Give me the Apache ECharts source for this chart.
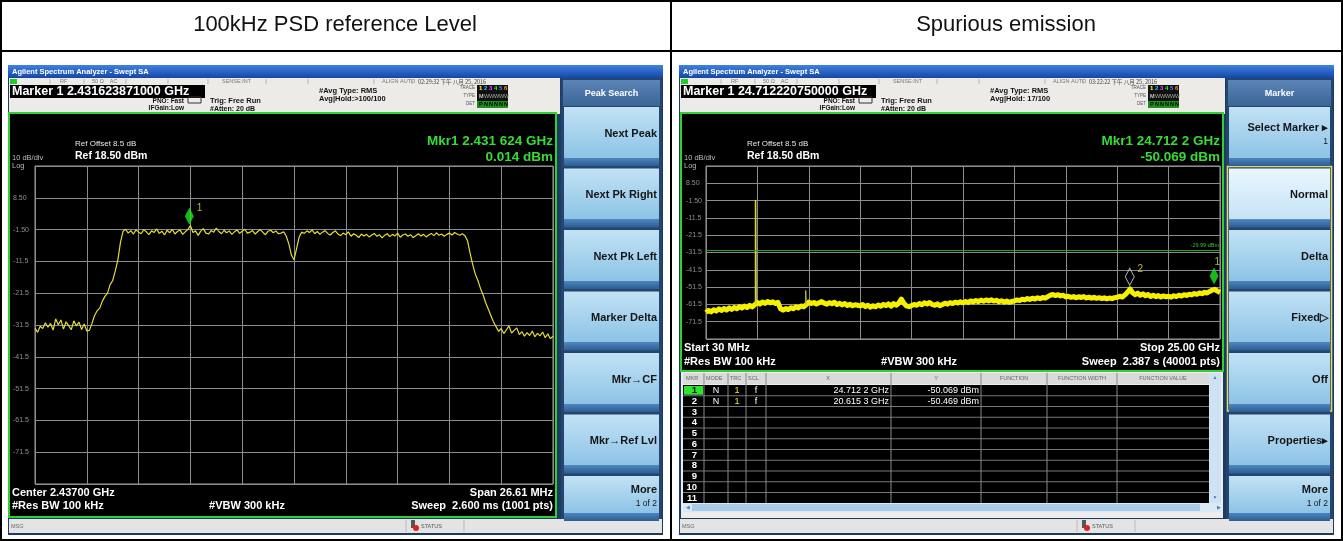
<!DOCTYPE html>
<html>
<head>
<meta charset="utf-8">
<script src="https://cdn.jsdelivr.net/npm/echarts@6/dist/echarts.min.js"></script>
<style>
  html, body { margin: 0; padding: 0; background: #fff; }
  #chart { width: 1343px; height: 541px; }
</style>
</head>
<body>
<div id="chart"></div>
<script>
// ---- 数据 ----
var titles = ['100kHz PSD reference Level', 'Spurious emission'];
var yTickLabels = ['8.50', '-1.50', '-11.5', '-21.5', '-31.5', '-41.5', '-51.5', '-61.5', '-71.5'];

// 左图: 2.43700 GHz 中心, 26.61 MHz 跨度, 201 点
var psdStartMHz = 2423.695;
var psdSpanMHz = 26.61;
var psdTrace = [
  -32.5, -33.8, -31.9, -32.6, -30.8, -32.2, -31.0, -33.1, -29.6, -31.4,
  -29.9, -32.8, -30.5, -31.7, -33.0, -30.2, -31.8, -30.6, -32.9, -31.2,
  -33.4, -33.2, -31.0, -28.5, -27.0, -26.2, -24.0, -22.5, -21.5, -18.8,
  -17.5, -14.5, -11.0, -5.5, -2.0, -1.4, -2.6, -1.8, -2.9, -1.6,
  -2.3, -2.8, -1.5, -2.2, -3.1, -1.9, -2.4, -1.3, -2.7, -2.0,
  -3.2, -1.7, -2.5, -1.4, -2.9, -2.1, -1.6, -3.0, -2.2, -1.5,
  -0.2, -2.4, -1.9, -3.3, -2.0, -1.2, -2.6, -2.9, -1.8, -2.3,
  -1.0, -2.1, -2.8, -1.7, -2.5, -1.9, -3.0, -2.2, -1.6, -2.7,
  -2.0, -1.4, -2.6, -2.3, -1.8, -2.9, -2.1, -1.5, -2.4, -3.1,
  -2.0, -1.7, -2.5, -1.9, -2.8, -2.6, -2.2, -3.5, -6.0, -9.5,
  -11.0, -7.5, -3.8, -2.3, -2.7, -1.9, -2.4, -1.6, -2.8, -2.1,
  -3.0, -2.3, -1.8, -2.7, -3.2, -2.4, -1.9, -2.9, -3.4, -2.6,
  -3.1, -2.2, -3.6, -2.8, -3.3, -4.0, -2.9, -3.5, -3.0, -3.8,
  -3.2, -2.7, -3.6, -3.1, -4.1, -3.3, -2.8, -3.7, -3.0, -3.5,
  -2.6, -3.9, -3.2, -2.9, -3.6, -3.1, -4.0, -3.4, -2.8, -3.5,
  -3.0, -3.8, -3.2, -2.7, -3.4, -2.5, -3.3, -2.9, -3.6, -3.0,
  -2.6, -3.2, -2.4, -2.9, -3.3, -2.8, -3.4, -5.0, -9.0, -12.5,
  -15.5, -17.5, -20.0, -22.0, -24.5, -26.5, -28.5, -30.5, -32.0, -33.5,
  -32.6, -34.2, -33.0, -31.8, -34.0, -33.2, -32.4, -34.5, -33.6, -35.0,
  -33.9, -34.8, -33.4, -35.2, -34.1, -34.9, -33.7, -35.5, -34.3, -35.8,
  -35.0
];
var psdMarker = { freq: 2431.624, level: 0.014 };

// 右图: 30 MHz - 25 GHz, 201 点
var spurStartGHz = 0.03;
var spurStopGHz = 25.0;
var spurTrace = [
  -66.2, -64.9, -65.8, -64.6, -65.3, -64.1, -65.0, -63.9, -64.7, -63.5,
  -64.4, -63.2, -64.0, -62.8, -63.6, -62.5, -63.3, -62.0, -62.9, -61.6,
  -60.4, -61.3, -60.1, -60.9, -59.8, -60.6, -60.0, -61.0, -60.3, -64.0,
  -64.8, -63.9, -64.5, -63.4, -64.0, -62.9, -63.5, -62.4, -62.9, -61.6,
  -60.2, -61.0, -60.4, -61.3, -60.6, -59.9, -60.8, -61.4, -60.5, -61.1,
  -60.3, -61.6, -60.9, -61.8, -61.0, -62.1, -61.4, -62.3, -61.7, -62.0,
  -62.4, -61.6, -62.8, -62.0, -63.1, -62.3, -62.9, -61.8, -62.6, -61.5,
  -62.2, -61.2, -62.5, -61.0, -62.0, -60.8, -58.4, -60.9, -62.4, -62.8,
  -62.2, -61.5, -62.0, -61.0, -61.7, -60.6, -61.3, -60.4, -61.5, -62.0,
  -61.2, -62.3, -61.6, -60.8, -61.4, -60.5, -61.0, -60.2, -60.7, -60.0,
  -60.6, -59.8, -60.4, -59.5, -60.1, -59.2, -59.9, -59.0, -59.7, -58.9,
  -59.5, -58.8, -59.6, -59.1, -60.0, -59.4, -60.2, -59.6, -60.3, -59.8,
  -59.5, -58.9, -59.3, -58.5, -58.9, -58.1, -58.6, -57.9, -58.4, -57.7,
  -58.2, -57.5, -57.9, -57.0, -56.2, -55.8, -56.4, -55.9, -56.6, -56.2,
  -57.2, -56.8, -57.4, -57.0, -57.6, -57.1, -57.5, -57.0, -57.8, -57.3,
  -57.9, -57.4, -58.0, -57.6, -58.1, -57.7, -58.3, -57.8, -58.2, -57.6,
  -57.4, -56.8, -57.2, -56.0, -54.5, -52.6, -54.8, -55.9, -55.0, -56.2,
  -55.4, -56.5, -55.8, -56.9, -56.2, -57.0, -56.4, -57.2, -56.6, -57.1,
  -56.8, -57.3, -56.5, -57.0, -56.2, -56.7, -55.9, -56.3, -55.6, -56.0,
  -55.2, -55.7, -54.9, -55.3, -54.5, -54.9, -54.0, -53.2, -52.8, -53.8,
  -54.6
];
var spurSpikes = [[2.437, -1.2], [4.874, -53.5]];
var spurMarkers = [
  { n: '1', freq: 24.7122, level: -50.069 },
  { n: '2', freq: 20.6153, level: -50.469 }
];
var spurLimit = -29.99;
var markerRows = [
  ['1', 'N', '1', 'f', '24.712 2 GHz', '-50.069 dBm'],
  ['2', 'N', '1', 'f', '20.615 3 GHz', '-50.469 dBm']
];

// ---- 绘图辅助 ----
var FONT = 'Liberation Sans, Arial, sans-serif';
function grad(a, b) {
  return { type: 'linear', x: 0, y: 0, x2: 0, y2: 1, colorStops: [{ offset: 0, color: a }, { offset: 1, color: b }] };
}
function R(x, y, w, h, fill, stroke, lw) {
  return { type: 'rect', z: -5, silent: true, shape: { x: x, y: y, width: w, height: h },
    style: { fill: fill || 'none', stroke: stroke || null, lineWidth: lw || 1 } };
}
function L(x1, y1, x2, y2, color, lw) {
  return { type: 'line', z: -5, silent: true, shape: { x1: x1, y1: y1, x2: x2, y2: y2 },
    style: { stroke: color, lineWidth: lw || 1 } };
}
function T(x, y, s, size, color, o) {
  o = o || {};
  return { type: 'text', z: -5, silent: true, x: x, y: y,
    style: { text: s, fontSize: size, fill: color, fontFamily: o.font || FONT,
      fontWeight: o.bold ? 'bold' : 'normal', align: o.align || 'left', verticalAlign: 'middle' } };
}

var wins = [
  { x0: 8, x1: 663, plotX: 9, plotR: 556, plotB: 517, panelX: 561, b1: 493, b2: 506, vbw: 247,
    marker: 'Marker 1 2.431623871000 GHz', avg: 'Avg|Hold:>100/100', time: '02:29:32 下午 八月 25, 2016',
    mkr: ['Mkr1 2.431 624 GHz', '0.014 dBm'], l1: 'Center 2.43700 GHz', r1: 'Span 26.61 MHz',
    sweep: 'Sweep  2.600 ms (1001 pts)', panel: 'Peak Search',
    buttons: [['Next Peak'], ['Next Pk Right'], ['Next Pk Left'], ['Marker Delta'], ['Mkr→CF'], ['Mkr→Ref Lvl'], ['More', '1 of 2']] },
  { x0: 679, x1: 1334, plotX: 681, plotR: 1223, plotB: 371, panelX: 1226, b1: 348, b2: 362, vbw: 919,
    marker: 'Marker 1 24.712220750000 GHz', avg: 'Avg|Hold: 17/100', time: '03:22:22 下午 八月 25, 2016',
    mkr: ['Mkr1 24.712 2 GHz', '-50.069 dBm'], l1: 'Start 30 MHz', r1: 'Stop 25.00 GHz',
    sweep: 'Sweep  2.387 s (40001 pts)', panel: 'Marker',
    buttons: [['Select Marker ▸', '1'], ['Normal'], ['Delta'], ['Fixed▷'], ['Off'], ['Properties▸'], ['More', '1 of 2']] }
];

function chrome(w) {
  var g = [], W = w.x1 - w.x0;
  g.push(R(w.x0, 65, W, 470, '#1d3a63'));
  g.push(R(w.x0, 65, W, 13, grad('#3f82e2', '#1646a4')));
  g.push(T(w.x0 + 4, 71.5, 'Agilent Spectrum Analyzer - Swept SA', 7.5, '#fff', { bold: 1 }));
  // 信息栏
  g.push(R(w.x0 + 1, 78, w.panelX - w.x0 - 2, 36, '#ecebe7'));
  g.push(R(w.x0 + 2, 79, 7, 5, '#22cc22'));
  [42, 76, 118, 160, 200, 258, 300, 366, 404].forEach(function (dx) { g.push(L(w.x0 + dx, 79, w.x0 + dx, 84, '#b5b5b5')); });
  g.push(T(w.x0 + 52, 81.5, 'RF', 5.5, '#777'));
  g.push(T(w.x0 + 84, 81.5, '50 Ω    AC', 5.5, '#777'));
  g.push(T(w.x0 + 214, 81.5, 'SENSE:INT', 5.5, '#777'));
  g.push(T(w.x0 + 374, 81.5, 'ALIGN AUTO', 5.5, '#777'));
  g.push(T(w.x0 + 410, 81.5, w.time, 5.5, '#444', { font: 'Noto Sans CJK SC' }));
  g.push(R(w.x0 + 2, 85, 195, 13, '#000'));
  g.push(T(w.x0 + 4, 91.5, w.marker, 12.5, '#fff', { bold: 1 }));
  g.push(T(w.x0 + 176, 101, 'PNO: Fast', 6.5, '#111', { bold: 1, align: 'right' }));
  g.push(T(w.x0 + 176, 108.5, 'IFGain:Low', 6.5, '#111', { bold: 1, align: 'right' }));
  g.push(R(w.x0 + 180, 97, 13, 6, 'none', '#333'));
  g.push(T(w.x0 + 202, 101, 'Trig: Free Run', 7.5, '#111', { bold: 1 }));
  g.push(T(w.x0 + 202, 109, '#Atten: 20 dB', 7, '#111', { bold: 1 }));
  g.push(T(w.x0 + 311, 91, '#Avg Type: RMS', 7.5, '#111', { bold: 1 }));
  g.push(T(w.x0 + 311, 99, w.avg, 7.5, '#111', { bold: 1 }));
  g.push(T(w.x0 + 467, 88, 'TRACE', 4.5, '#555', { align: 'right' }));
  g.push(T(w.x0 + 467, 96, 'TYPE', 4.5, '#555', { align: 'right' }));
  g.push(T(w.x0 + 467, 104, 'DET', 4.5, '#555', { align: 'right' }));
  g.push(R(w.x0 + 469, 85, 31, 23, '#111'));
  g.push(R(w.x0 + 469, 101, 31, 7, '#1f8f1f'));
  var tc = ['#ffff30', '#30c0ff', '#ff40ff', '#30ff30', '#6080ff', '#ff9030'];
  for (var i = 0; i < 6; i++) {
    g.push(T(w.x0 + 471 + i * 5, 88.5, String(i + 1), 6, tc[i], { bold: 1 }));
    g.push(T(w.x0 + 471 + i * 5, 96, i ? 'W' : 'M', 5.5, i ? '#aaa' : '#fff'));
    g.push(T(w.x0 + 471 + i * 5, 104.5, i ? 'N' : 'P', 5.5, '#000', { bold: 1 }));
  }
  // 黑色显示区
  g.push(R(w.plotX, 113, w.plotR - w.plotX, w.plotB - 113, '#000', '#2fd02f', 2));
  g.push(T(w.plotX + 66, 144, 'Ref Offset 8.5 dB', 8, '#e6e6e6'));
  g.push(T(w.plotX + 66, 156, 'Ref 18.50 dBm', 10.5, '#fff', { bold: 1 }));
  g.push(T(w.plotX + 3, 158, '10 dB/div', 7.5, '#bbb'));
  g.push(T(w.plotX + 3, 165.5, 'Log', 7.5, '#bbb'));
  g.push(T(w.plotR - 3, 141, w.mkr[0], 13.5, '#36dc36', { bold: 1, align: 'right' }));
  g.push(T(w.plotR - 3, 157, w.mkr[1], 13.5, '#36dc36', { bold: 1, align: 'right' }));
  g.push(T(w.plotX + 3, w.b1, w.l1, 11, '#fff', { bold: 1 }));
  g.push(T(w.plotR - 3, w.b1, w.r1, 11, '#fff', { bold: 1, align: 'right' }));
  g.push(T(w.plotX + 3, w.b2, '#Res BW 100 kHz', 11, '#fff', { bold: 1 }));
  g.push(T(w.vbw, w.b2, '#VBW 300 kHz', 11, '#fff', { bold: 1, align: 'center' }));
  g.push(T(w.plotR - 3, w.b2, w.sweep, 11, '#fff', { bold: 1, align: 'right' }));
  // MSG 栏
  g.push(R(w.x0 + 1, 519, W - 2, 14, '#e4e4e4'));
  g.push(T(w.x0 + 3, 526, 'MSG', 5.5, '#666'));
  g.push(L(w.x0 + 398, 520, w.x0 + 398, 532, '#bbb'));
  g.push(L(w.x0 + 456, 520, w.x0 + 456, 532, '#bbb'));
  g.push(R(w.x0 + 403, 520, 4, 8, '#555'));
  g.push({ type: 'circle', z: -5, silent: true, shape: { cx: w.x0 + 408, cy: 528, r: 3 }, style: { fill: '#e02020' } });
  g.push(T(w.x0 + 413, 526, 'STATUS', 5.5, '#555'));
  // 右侧软键
  var pw = w.x1 - w.panelX - 1;
  g.push(R(w.panelX, 78, pw, 441, '#26456d'));
  g.push(R(w.panelX + 2, 80, pw - 4, 26, grad('#5b85b6', '#3a6597')));
  g.push(T(w.panelX + pw / 2, 94, w.panel, 9, '#fff', { bold: 1, align: 'center' }));
  var tops = [], hs = [];
  for (var k = 0; k < 7; k++) { tops.push(107 + 61.5 * k); hs.push(k < 6 ? 59 : 45); }
  var isMarker = w.panel === 'Marker';
  if (isMarker) g.push(R(w.panelX + 1.5, tops[1] - 2, pw - 3, tops[4] + hs[4] - tops[1] + 1, 'none', '#e3dc6a', 1.5));
  w.buttons.forEach(function (b, k) {
    var top = tops[k], h = hs[k];
    var hi = isMarker && k === 1;
    g.push(R(w.panelX + 3, top, pw - 6, h - 8, hi ? grad('#eaf6fd', '#c4e3f6') : grad('#c2e2f5', '#8cc3e6')));
    g.push(R(w.panelX + 3, top + h - 8, pw - 6, 8, grad('#4c86bd', '#2c5d93')));
    var cy = top + (h - 8) / 2 + 1;
    if (b.length === 1) {
      g.push(T(w.panelX + pw - 5, cy, b[0], 11, '#151515', { bold: 1, align: 'right' }));
    } else {
      g.push(T(w.panelX + pw - 5, cy - 6, b[0], 11, '#151515', { bold: 1, align: 'right' }));
      g.push(T(w.panelX + pw - 5, cy + 8, b[1], 8.5, '#151515', { align: 'right' }));
    }
  });
  return g;
}

function markerTable() {
  var g = [], x0 = 683, top = 385, rh = 10.75;
  g.push(R(681, 372, 542, 146, '#ececec'));
  g.push(R(x0, 373, 526, 11, '#dadada'));
  var hdr = [[686, 'MKR', 'left'], [706, 'MODE', 'left'], [730, 'TRC', 'left'], [748, 'SCL', 'left'],
    [828, 'X', 'center'], [936, 'Y', 'center'], [1014, 'FUNCTION', 'center'],
    [1082, 'FUNCTION WIDTH', 'center'], [1163, 'FUNCTION VALUE', 'center']];
  hdr.forEach(function (h) { g.push(T(h[0], 378.5, h[1], 5.5, '#666', { align: h[2] })); });
  g.push(R(x0, top, 526, 118, '#000'));
  for (var r = 1; r <= 10; r++) g.push(L(x0, top + rh * r, 1209, top + rh * r, '#777'));
  [704, 728, 746, 766, 891, 981, 1047, 1117].forEach(function (x) { g.push(L(x, 373, x, 503, '#888')); });
  for (var n = 1; n <= 11; n++) {
    var cy = top + rh * (n - 1) + rh / 2;
    if (n === 1) g.push(R(x0 + 1, top + 1, 19, rh - 2, '#2ee52e'));
    g.push(T(697, cy, String(n), 9.5, n === 1 ? '#000' : '#fff', { bold: 1, align: 'right' }));
  }
  markerRows.forEach(function (row, i) {
    var cy = top + rh * i + rh / 2;
    g.push(T(716, cy, row[1], 9, '#fff', { align: 'center' }));
    g.push(T(737, cy, row[2], 9, '#f0e040', { align: 'center' }));
    g.push(T(756, cy, row[3], 9, '#fff', { align: 'center' }));
    g.push(T(889, cy, row[4], 9, '#fff', { align: 'right' }));
    g.push(T(979, cy, row[5], 9, '#fff', { align: 'right' }));
  });
  g.push(R(1209, 373, 12, 130, '#cfe2f3'));
  g.push(T(1215, 378, '▲', 5, '#4a7fb8', { align: 'center' }));
  g.push(T(1215, 498, '▼', 5, '#4a7fb8', { align: 'center' }));
  g.push(R(x0, 503, 538, 9, '#dbe8f5'));
  g.push(R(x0 + 9, 504, 508, 7, '#a9cbea'));
  g.push(T(x0 + 3, 507.5, '◀', 5, '#4a7fb8'));
  g.push(T(1217, 507.5, '▶', 5, '#4a7fb8'));
  return g;
}

var graphics = [];
graphics.push(R(1, 1, 1341, 539, 'none', '#000', 2));
graphics.push(L(0, 51, 1343, 51, '#000', 2));
graphics.push(L(671, 0, 671, 541, '#000', 2));
graphics.push(T(335, 25, titles[0], 22, '#111', { align: 'center' }));
graphics.push(T(1006, 25, titles[1], 22, '#111', { align: 'center' }));
wins.forEach(function (w) { graphics = graphics.concat(chrome(w)); });
graphics = graphics.concat(markerTable());

// ---- 坐标轴 ----
var labelMap = {};
yTickLabels.forEach(function (s) { labelMap[parseFloat(s).toFixed(1)] = s; });
function yAxisOf(grid) {
  return {
    type: 'value', gridIndex: grid, min: -81.5, max: 18.5, interval: 10,
    axisLine: { show: false }, axisTick: { show: false },
    axisLabel: {
      showMinLabel: false, showMaxLabel: false, align: 'left', margin: grid ? 20 : 22,
      fontSize: 7, color: '#8f8f8f', fontFamily: FONT,
      formatter: function (v) { return labelMap[v.toFixed(1)] || ''; }
    },
    splitLine: { lineStyle: { color: '#8c8c8c', width: 1 } }
  };
}
function xAxisOf(grid) {
  return {
    type: 'value', gridIndex: grid, min: 0, max: 200, interval: 20,
    axisLine: { show: false }, axisTick: { show: false }, axisLabel: { show: false },
    splitLine: { lineStyle: { color: '#8c8c8c', width: 1 } }
  };
}

function idxOf(f, start, span) { return (f - start) / span * 200; }
var spurSpan = spurStopGHz - spurStartGHz;

var series = [
  {
    type: 'line', xAxisIndex: 0, yAxisIndex: 0, showSymbol: false, animation: false, z: 3,
    data: psdTrace.map(function (v, i) { return [i, v]; }),
    lineStyle: { color: '#e4dc36', width: 1.2 }
  },
  {
    type: 'scatter', xAxisIndex: 0, yAxisIndex: 0, animation: false, z: 5,
    symbol: 'diamond', symbolSize: [9, 17], symbolOffset: [0, '-50%'],
    data: [[idxOf(psdMarker.freq, psdStartMHz, psdSpanMHz), psdMarker.level]],
    itemStyle: { color: '#1fe61f' },
    label: { show: true, formatter: '1', position: 'right', offset: [-2, -8], color: '#e6df50', fontSize: 10, fontFamily: FONT }
  },
  {
    type: 'line', xAxisIndex: 1, yAxisIndex: 1, showSymbol: false, animation: false, z: 3,
    data: spurTrace.map(function (v, i) { return [i, v]; }),
    lineStyle: { color: '#f4f000', width: 5, join: 'round' },
    markLine: {
      silent: true, symbol: 'none', animation: false,
      data: [{ yAxis: spurLimit }],
      lineStyle: { color: '#1fa81f', width: 1, type: 'solid' },
      label: { show: true, position: 'insideEndTop', formatter: spurLimit.toFixed(2) + ' dBm', color: '#2cc22c', fontSize: 5.5, fontFamily: FONT, distance: 1 }
    }
  }
];
spurSpikes.forEach(function (s, i) {
  var x = idxOf(s[0], spurStartGHz, spurSpan);
  var base = spurTrace[Math.round(x)];
  series.push({
    type: 'line', xAxisIndex: 1, yAxisIndex: 1, showSymbol: false, animation: false, z: 4,
    data: [[x, base], [x, s[1]], [x + 0.2, base]],
    lineStyle: { color: i ? '#c8c238' : '#dcd62a', width: i ? 1 : 1.6 }
  });
});
series.push({
  type: 'scatter', xAxisIndex: 1, yAxisIndex: 1, animation: false, z: 6,
  symbol: 'diamond', symbolSize: [9, 17], symbolOffset: [0, '-50%'],
  data: spurMarkers.map(function (m) {
    var first = m.n === '1';
    return {
      value: [idxOf(m.freq, spurStartGHz, spurSpan), m.level],
      itemStyle: first ? { color: '#1fe61f' } : { color: 'rgba(0,0,0,0)', borderColor: '#dddddd', borderWidth: 1 },
      label: { show: true, formatter: m.n, position: 'right', offset: first ? [-9, -14] : [-2, -8], color: '#e6df50', fontSize: 10, fontFamily: FONT }
    };
  })
});

var chart = echarts.init(document.getElementById('chart'), null, { renderer: 'canvas' });
chart.setOption({
  animation: false,
  backgroundColor: '#ffffff',
  graphic: { elements: graphics },
  grid: [
    { left: 35, top: 166, width: 518, height: 318, show: true, borderColor: '#a0a0a0', borderWidth: 1, backgroundColor: 'transparent' },
    { left: 706, top: 166, width: 514, height: 173, show: true, borderColor: '#a0a0a0', borderWidth: 1, backgroundColor: 'transparent' }
  ],
  xAxis: [xAxisOf(0), xAxisOf(1)],
  yAxis: [yAxisOf(0), yAxisOf(1)],
  series: series
});
</script>
</body>
</html>
